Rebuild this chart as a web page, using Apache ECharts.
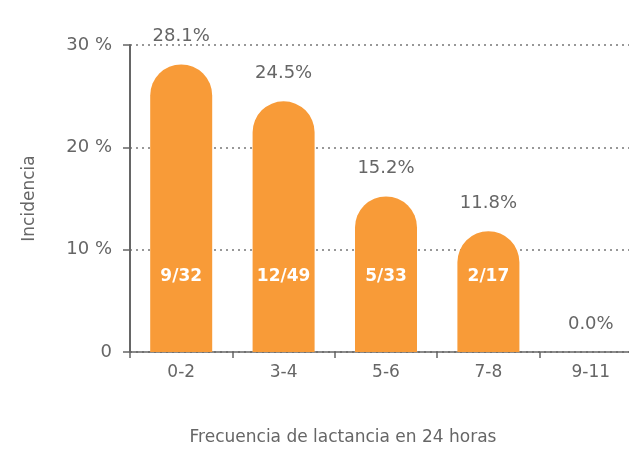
<!DOCTYPE html>
<html>
<head>
<meta charset="UTF-8">
<title></title>
<script src="https://cdn.jsdelivr.net/npm/echarts@6/dist/echarts.min.js"></script>
<style>
html,body{margin:0;padding:0;background:#fff;}
#main{width:629px;height:454px;}
</style>
</head>
<body>
<div id="main"></div>
<script type="text/javascript">
// datos
var categorias = ['0-2', '3-4', '5-6', '7-8', '9-11'];
var incidencia = [28.1, 24.5, 15.2, 11.8, 0.0];
var fracciones = ['9/32', '12/49', '5/33', '2/17', ''];
var ticksY = [0, 10, 20, 30];

var gris = '#666';
var naranja = '#F89B38';
var fuente = 'DejaVu Sans';

var chart = echarts.init(document.getElementById('main'));

var option = {
	animation: false,
	grid: {left: 130, width: 512, top: 45, bottom: 102, outerBoundsMode: 'none', containLabel: false},
	xAxis: {
		type: 'category',
		data: categorias,
		name: 'Frecuencia de lactancia en 24 horas',
		nameLocation: 'middle',
		nameGap: 77,
		nameTextStyle: {color: gris, fontSize: 17, fontFamily: fuente, padding: [0, 86, 0, 0]},
		axisLine: {lineStyle: {color: gris, width: 1.5}},
		axisTick: {show: true, length: 6, lineStyle: {color: gris, width: 1.5}},
		axisLabel: {color: gris, fontSize: 17, fontFamily: fuente, margin: 12}
	},
	yAxis: {
		type: 'value',
		min: ticksY[0],
		max: ticksY[ticksY.length - 1],
		interval: 10,
		name: 'Incidencia',
		nameLocation: 'middle',
		nameGap: 92,
		nameTextStyle: {color: gris, fontSize: 17, fontFamily: fuente},
		axisLine: {show: true, lineStyle: {color: gris, width: 2}},
		axisTick: {show: true, length: 7, lineStyle: {color: gris, width: 1.5}},
		axisLabel: {
			color: gris, fontSize: 18, fontFamily: fuente, margin: 18,
			formatter: function(v){ return v === 0 ? '0' : v + ' %'; }
		},
		splitLine: {show: true, lineStyle: {color: '#777', type: [2, 4], width: 1.5}}
	},
	series: [
		{
			type: 'bar',
			data: incidencia,
			barWidth: 62,
			itemStyle: {color: naranja, borderRadius: [31, 31, 0, 0]},
			label: {
				show: true, position: 'top', distance: 19,
				color: gris, fontSize: 18, fontFamily: fuente,
				formatter: function(p){ return p.value.toFixed(1) + '%'; }
			}
		},
		{
			type: 'bar',
			data: incidencia,
			barWidth: 62,
			barGap: '-100%',
			itemStyle: {color: 'rgba(0,0,0,0)'},
			label: {
				show: true, position: 'insideBottom', distance: 67,
				color: '#fff', fontSize: 17, fontWeight: 'bold', fontFamily: fuente,
				formatter: function(p){ return fracciones[p.dataIndex]; }
			}
		}
	]
};

chart.setOption(option);
</script>
</body>
</html>
